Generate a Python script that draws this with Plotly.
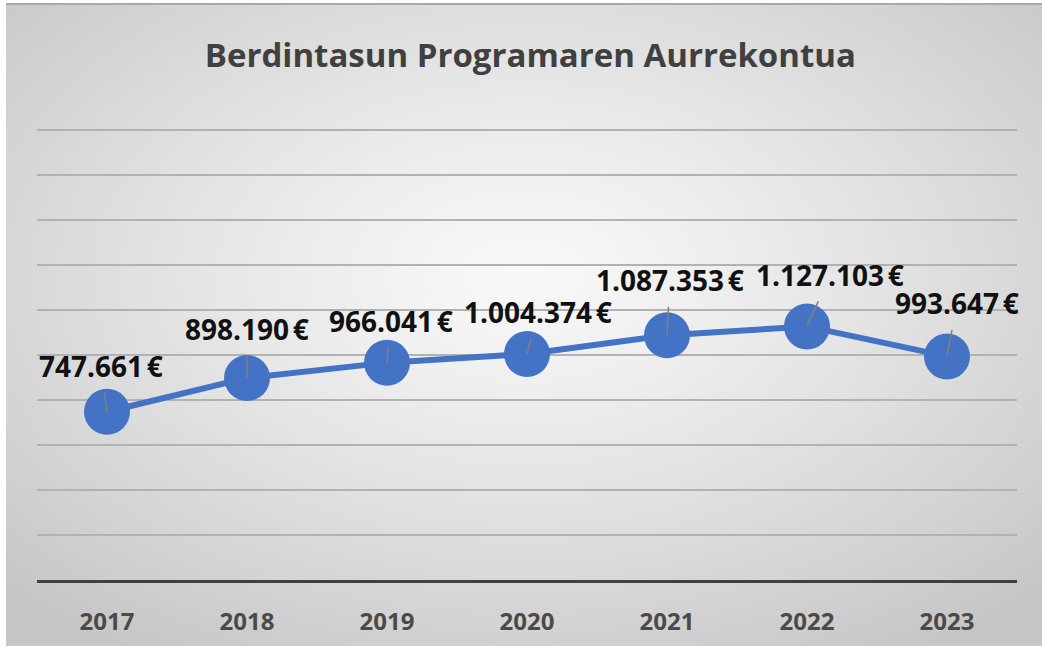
import base64, struct, zlib
import numpy as np
import plotly.graph_objects as go

years = ["2017", "2018", "2019", "2020", "2021", "2022", "2023"]
budget = [747661, 898190, 966041, 1004374, 1087353, 1127103, 993647]
labels = ["747.661\u202f€", "898.190\u202f€", "966.041\u202f€", "1.004.374\u202f€",
          "1.087.353\u202f€", "1.127.103\u202f€", "993.647\u202f€"]
label_dx = [-6, 0, 4, 11, 3, 23, 10]
label_dy = [-46, -49, -42, -42, -55, -51, -53]

title = "Berdintasun Programaren Aurrekontua"
FONT = "'Open Sans', sans-serif"
BLUE = "#4472C4"


def gradient_png(w=260, h=160):
    yy, xx = np.mgrid[0:h, 0:w]
    cx, cy = (w - 1) * 0.5, (h - 1) * 0.42
    d = np.sqrt(((xx - cx) / (w / 2)) ** 2 + ((yy - cy) / (h / 2)) ** 2) / np.sqrt(2)
    d = np.clip(d, 0, 1)
    c = (249 - (249 - 198) * d ** 1.2).astype(np.uint8)
    raw = b"".join(b"\x00" + bytes(np.repeat(row, 3)) for row in c)

    def chunk(t, data):
        return struct.pack(">I", len(data)) + t + data + struct.pack(">I", zlib.crc32(t + data) & 0xffffffff)

    png = b"\x89PNG\r\n\x1a\n" + chunk(b"IHDR", struct.pack(">IIBBBBB", w, h, 8, 2, 0, 0, 0))
    png += chunk(b"IDAT", zlib.compress(raw, 9)) + chunk(b"IEND", b"")
    return "data:image/png;base64," + base64.b64encode(png).decode()


W, H = 1042, 652
ml, mr, mt, mb = 37, 25, 125, 72
pw, ph = W - ml - mr, H - mt - mb
ytop = 2000000 * ph / 450.0

fig = go.Figure()
fig.add_trace(go.Scatter(
    x=years, y=budget, mode="lines+markers",
    line=dict(color=BLUE, width=6),
    marker=dict(size=46, color=BLUE, line=dict(width=0)),
    hoverinfo="skip", showlegend=False,
))

for i, (v, t, dx, dy) in enumerate(zip(budget, labels, label_dx, label_dy)):
    fig.add_annotation(
        x=i, y=v, text="<b>" + t + "</b>", ax=dx, ay=dy,
        showarrow=True, arrowhead=0, arrowwidth=1.5, arrowcolor="#808080",
        startstandoff=6,
        font=dict(family=FONT, size=28, color="#111111"),
    )

# background gradient image, covering the chart frame
x0 = (6 - ml) / pw
x1 = (W - ml) / pw
y0 = (H - mb - 4) / ph
y1 = (H - mb - 646) / ph
fig.add_layout_image(dict(
    source=gradient_png(), xref="paper", yref="paper",
    x=x0, y=y0, sizex=x1 - x0, sizey=y0 - y1,
    xanchor="left", yanchor="top", sizing="stretch", layer="below",
))
fig.add_shape(type="line", xref="paper", yref="paper", x0=x0, x1=x1, y0=y0, y1=y0,
              line=dict(color="#a8a8a8", width=2), layer="below")

fig.update_layout(
    width=W, height=H,
    margin=dict(l=ml, r=mr, t=mt, b=mb),
    paper_bgcolor="white", plot_bgcolor="rgba(0,0,0,0)",
    title=dict(text="<b>" + title + "</b>", xref="container", yref="container",
               x=0.509, y=1 - 55 / H, xanchor="center", yanchor="middle",
               font=dict(family=FONT, size=33, color="#404040")),
    xaxis=dict(type="category", showline=True, linecolor="#404040", linewidth=3,
               showgrid=False, ticks="", ticklabelstandoff=18,
               tickfont=dict(family=FONT, size=24, color="#4a4a4a", weight="bold"),
               range=[-0.5, 6.5]),
    yaxis=dict(range=[0, ytop], dtick=200000, showticklabels=False,
               gridcolor="#b2b2b2", gridwidth=1.5, zeroline=False, showline=False),
)

fig.write_html("out.html", config={"displayModeBar": False},
               post_script="document.body.style.margin='0px';")
